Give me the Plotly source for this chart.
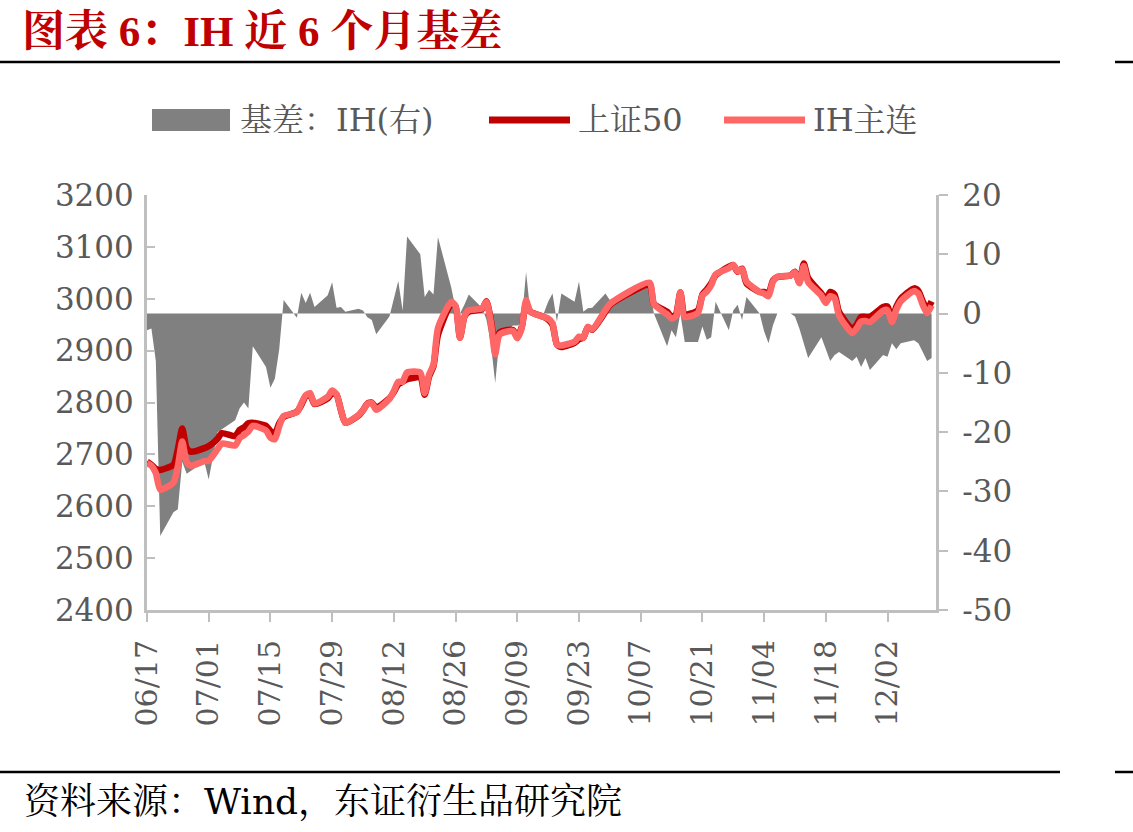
import plotly.graph_objects as go

# ---------------- data ----------------
dates = [
    "2025-06-17","2025-06-18","2025-06-19","2025-06-20","2025-06-23","2025-06-24","2025-06-25","2025-06-26","2025-06-27","2025-06-30",
    "2025-07-01","2025-07-02","2025-07-03","2025-07-04","2025-07-07","2025-07-08","2025-07-09","2025-07-10","2025-07-11",
    "2025-07-14","2025-07-15","2025-07-16","2025-07-17","2025-07-18","2025-07-21","2025-07-22","2025-07-23","2025-07-24","2025-07-25",
    "2025-07-28","2025-07-29","2025-07-30","2025-07-31","2025-08-01",
    "2025-08-04","2025-08-05","2025-08-06","2025-08-07","2025-08-08","2025-08-11","2025-08-12","2025-08-13","2025-08-14","2025-08-15",
    "2025-08-18","2025-08-19","2025-08-20","2025-08-21","2025-08-22","2025-08-25","2025-08-26","2025-08-27","2025-08-28","2025-08-29",
    "2025-09-01","2025-09-02","2025-09-03","2025-09-04","2025-09-05","2025-09-08","2025-09-09","2025-09-10","2025-09-11","2025-09-12",
    "2025-09-15","2025-09-16","2025-09-17","2025-09-18","2025-09-19","2025-09-22","2025-09-23","2025-09-24","2025-09-25","2025-09-26",
    "2025-09-29","2025-09-30",
    "2025-10-09","2025-10-10","2025-10-13","2025-10-14","2025-10-15","2025-10-16","2025-10-17","2025-10-20","2025-10-21","2025-10-22",
    "2025-10-23","2025-10-24","2025-10-27","2025-10-28","2025-10-29","2025-10-30","2025-10-31",
    "2025-11-03","2025-11-04","2025-11-05","2025-11-06","2025-11-07","2025-11-10","2025-11-11","2025-11-12","2025-11-13","2025-11-14",
    "2025-11-17","2025-11-18","2025-11-19","2025-11-20","2025-11-21","2025-11-24","2025-11-25","2025-11-26","2025-11-27","2025-11-28",
    "2025-12-01","2025-12-02","2025-12-03","2025-12-04","2025-12-05","2025-12-08","2025-12-09","2025-12-10","2025-12-11","2025-12-12",
]

sse50 = [
    2686, 2680, 2672, 2670, 2680, 2710, 2750, 2712, 2705, 2712,
    2716, 2722, 2730, 2741, 2735, 2747, 2752, 2760, 2761,
    2755, 2745, 2740, 2760, 2772, 2782, 2795, 2812, 2815, 2797,
    2808, 2818, 2815, 2785, 2761,
    2775, 2785, 2798, 2800, 2790, 2808, 2820, 2835, 2840, 2845,
    2848, 2815, 2850, 2870, 2930, 2990, 2985, 2925, 2965, 2975,
    2980, 2995, 2960, 2905, 2935, 2940, 2926, 2945, 2990, 2975,
    2965, 2960, 2950, 2912, 2907, 2915, 2922, 2925, 2945, 2940,
    2975, 2988,
    3027, 2990, 2975, 2965, 2970, 3012, 2970, 2978, 3008, 3018,
    3030, 3045, 3062, 3065, 3052, 3058, 3030,
    3013, 3013, 3010, 3035, 3042, 3045, 3052, 3032, 3068, 3040,
    3010, 2998, 3013, 3008, 2975, 2942, 2950, 2965, 2965, 2965,
    2984, 2985, 2960, 2985, 3000, 3020, 3015, 2995, 2980, 2995,
]

ih_main = [
    2683, 2678, 2664, 2632, 2646, 2677, 2725, 2685, 2678, 2687,
    2688, 2698, 2710, 2721, 2717, 2731, 2737, 2744, 2755,
    2746, 2732, 2729, 2754, 2774, 2781, 2798, 2814, 2818, 2798,
    2811, 2823, 2816, 2786, 2761,
    2776, 2785, 2797, 2799, 2786, 2807, 2822, 2840, 2840, 2858,
    2858, 2818, 2854, 2873, 2943, 2994, 2986, 2925, 2966, 2978,
    2981, 2994, 2955, 2893, 2931, 2938, 2924, 2943, 2997, 2975,
    2965, 2962, 2953, 2911, 2910, 2917, 2927, 2925, 2946, 2941,
    2978, 2990,
    3031, 2990, 2970, 2962, 2966, 3012, 2965, 2973, 3006, 3014,
    3026, 3047, 3059, 3065, 3053, 3057, 3033,
    3013, 3010, 3005, 3033, 3042, 3045, 3051, 3030, 3063, 3032,
    3006, 2992, 3005, 3001, 2968, 2934, 2943, 2956, 2957, 2955,
    2977, 2978, 2955, 2979, 2995, 3015, 3010, 2988, 2972, 2987,
]

basis = [
    -2.8, -2.5, -8.0, -37.5, -33.5, -33.0, -25.0, -27.0, -26.5, -25.0,
    -28.0, -24.0, -20.0, -19.5, -18.0, -16.0, -15.0, -16.0, -5.5,
    -9.0, -12.5, -11.0, -6.0, 2.3, -0.7, 3.5, 1.8, 3.5, 1.1,
    3.1, 5.3, 1.0, 1.1, 0.3,
    0.8, 0.5, -0.6, -1.1, -3.5, -0.5, 2.5, 5.5, 0.5, 13.0,
    10.0, 2.8, 4.0, 3.2, 12.9, 4.5, 0.9, 0.0, 1.5, 3.2,
    1.0, -1.0, -5.0, -11.7, -4.0, -2.0, -2.0, -1.6, 7.0, 0.0,
    0.0, 2.0, 3.4, -1.4, 3.4, 2.0, 5.4, 0.3, 0.9, 1.0,
    3.4, 2.3,
    4.5, 0.0, -5.5, -2.8, -4.0, 0.0, -4.8, -4.8, -2.2, -4.4,
    -4.0, 2.0, -2.8, 0.5, 1.5, -1.1, 2.8,
    0.0, -3.0, -5.0, -2.0, 0.0, 0.0, -0.5, -2.5, -5.0, -7.5,
    -4.0, -6.0, -8.0, -7.0, -6.5, -8.0, -7.3, -9.0, -7.5, -9.5,
    -7.0, -7.3, -5.0, -6.0, -5.0, -4.5, -5.0, -6.5, -8.0, -7.5,
]

tick_dates = ["2025-06-17","2025-07-01","2025-07-15","2025-07-29","2025-08-12","2025-08-26",
              "2025-09-09","2025-09-23","2025-10-07","2025-10-21","2025-11-04","2025-11-18","2025-12-02"]
tick_labels = ["06/17","07/01","07/15","07/29","08/12","08/26","09/09","09/23","10/07","10/21","11/04","11/18","12/02"]

left_ticks = [2400, 2500, 2600, 2700, 2800, 2900, 3000, 3100, 3200]
right_ticks = [-50, -40, -30, -20, -10, 0, 10, 20]

series_names = ["基差：IH(右)", "上证50", "IH主连"]
title_text = "图表 6：IH 近 6 个月基差"
source_text = "资料来源：Wind，东证衍生品研究院"

# ---------------- style ----------------
NUMF = "DejaVu Serif, Liberation Serif, Noto Serif CJK SC, Noto Sans CJK SC, serif"
TXTF = "Liberation Serif, Noto Serif CJK SC, Noto Sans CJK SC, serif"
GRAY_TXT = "#595959"
AXIS_COL = "#BFBFBF"
C_AREA = "#808080"
C_RED = "#C00000"
C_PINK = "#FF6666"

W, H = 1133, 832
L, R, T, B = 147, 1133 - 936, 195, 832 - 610

def px_x(px):
    return (px - L) / (W - L - R)

def px_y(py):
    return (H - B - py) / (H - T - B)

fig = go.Figure()

fig.add_trace(go.Scatter(
    x=dates, y=basis, name=series_names[0], mode="lines",
    line=dict(width=0, color=C_AREA), fill="tozeroy", fillcolor=C_AREA,
    yaxis="y", showlegend=False, hoverinfo="skip"))

fig.add_trace(go.Scatter(
    x=dates, y=sse50, name=series_names[1], mode="lines",
    line=dict(width=6.5, color=C_RED, shape="spline", smoothing=0.6),
    yaxis="y2", showlegend=False))

fig.add_trace(go.Scatter(
    x=dates, y=ih_main, name=series_names[2], mode="lines",
    line=dict(width=6.5, color=C_PINK, shape="spline", smoothing=0.6),
    yaxis="y2", showlegend=False))

tickfont = dict(family=NUMF, size=31, color=GRAY_TXT)

fig.update_layout(
    width=W, height=H,
    margin=dict(l=L, r=R, t=T, b=B, pad=0),
    paper_bgcolor="white", plot_bgcolor="white",
    showlegend=False,
    xaxis=dict(
        type="date", range=["2025-06-17", "2025-12-13"],
        tickvals=tick_dates, ticktext=tick_labels, tickangle=-90,
        tickfont=dict(family=NUMF, size=30, color=GRAY_TXT),
        showgrid=False, zeroline=False,
        showline=True, linecolor=AXIS_COL, linewidth=3,
        ticks="outside", ticklen=9, tickwidth=2, tickcolor=AXIS_COL,
        ticklabelstandoff=6,
    ),
    yaxis=dict(
        side="right", range=[-50, 20], tickvals=right_ticks,
        ticktext=[str(v) for v in right_ticks],
        tickfont=tickfont, showgrid=False, zeroline=False,
        showline=True, linecolor=AXIS_COL, linewidth=3,
        ticks="outside", ticklen=9, tickwidth=2, tickcolor=AXIS_COL,
        ticklabelstandoff=8,
    ),
    yaxis2=dict(
        side="left", overlaying="y", range=[2400, 3200], tickvals=left_ticks,
        tickfont=tickfont, showgrid=False, zeroline=False,
        showline=True, linecolor=AXIS_COL, linewidth=3,
        ticks="inside", ticklen=8, tickwidth=2, tickcolor=AXIS_COL,
        ticklabelstandoff=4,
    ),
)

# title
fig.add_annotation(text="<b>" + title_text + "</b>", xref="paper", yref="paper",
                   x=px_x(20), y=px_y(31), xanchor="left", yanchor="middle",
                   showarrow=False, font=dict(family=TXTF, size=43, color=C_RED))

# horizontal rules
for yy in (62, 772):
    fig.add_shape(type="line", xref="paper", yref="paper",
                  x0=px_x(0), x1=px_x(1060), y0=px_y(yy), y1=px_y(yy),
                  line=dict(color="black", width=2.5))
    fig.add_shape(type="line", xref="paper", yref="paper",
                  x0=px_x(1115), x1=px_x(1133), y0=px_y(yy), y1=px_y(yy),
                  line=dict(color="black", width=2.5))

# source
fig.add_annotation(text=source_text, xref="paper", yref="paper",
                   x=px_x(22), y=px_y(801), xanchor="left", yanchor="middle",
                   showarrow=False, font=dict(family=NUMF, size=36, color="black"))

# custom legend
leg_y = 120
legfont = dict(family=NUMF, size=32, color=GRAY_TXT)
fig.add_shape(type="rect", xref="paper", yref="paper",
              x0=px_x(152), x1=px_x(230), y0=px_y(109), y1=px_y(131),
              fillcolor=C_AREA, line=dict(width=0))
fig.add_annotation(text=series_names[0], xref="paper", yref="paper",
                   x=px_x(238), y=px_y(leg_y), xanchor="left", yanchor="middle",
                   showarrow=False, font=legfont)
fig.add_shape(type="line", xref="paper", yref="paper",
              x0=px_x(489), x1=px_x(570), y0=px_y(leg_y), y1=px_y(leg_y),
              line=dict(color=C_RED, width=7))
fig.add_annotation(text=series_names[1], xref="paper", yref="paper",
                   x=px_x(576), y=px_y(leg_y), xanchor="left", yanchor="middle",
                   showarrow=False, font=legfont)
fig.add_shape(type="line", xref="paper", yref="paper",
              x0=px_x(724), x1=px_x(805), y0=px_y(leg_y), y1=px_y(leg_y),
              line=dict(color=C_PINK, width=7))
fig.add_annotation(text=series_names[2], xref="paper", yref="paper",
                   x=px_x(811), y=px_y(leg_y), xanchor="left", yanchor="middle",
                   showarrow=False, font=legfont)

fig.write_html("out.html")
